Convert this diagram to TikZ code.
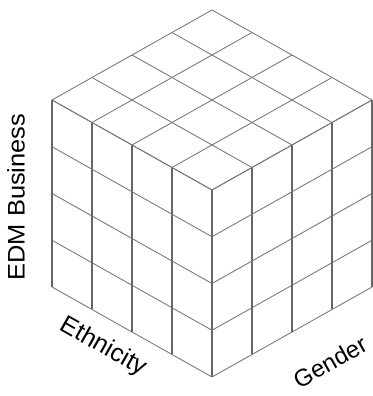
\documentclass[tikz,border=0pt]{standalone}
\usepackage{fontspec}
\setmainfont{Liberation Sans}
\usetikzlibrary{positioning}

\begin{document}
\begin{tikzpicture}[
  x=1pt, y=1pt,
  every node/.style={font=\fontsize{24}{24}\selectfont, inner sep=0pt},
  cell/.style={draw=black!52, line width=0.9pt},
  post/.style={draw=black!60, line width=1.1pt},
]
  \useasboundingbox (0,0) rectangle (372,396);

  % left face (Ethnicity side)
  \begin{scope}[shift={(212,19)}, x={(-40pt,22.5pt)}, y={(0pt,46.75pt)}]
    \foreach \i in {0,...,4} {
      \draw[post] (\i,0) -- (\i,4);
      \draw[cell] (0,\i) -- (4,\i);
    }
  \end{scope}

  % right face (Gender side)
  \begin{scope}[shift={(212,19)}, x={(40pt,22.5pt)}, y={(0pt,46.75pt)}]
    \foreach \i in {0,...,4} {
      \draw[post] (\i,0) -- (\i,4);
      \draw[cell] (0,\i) -- (4,\i);
    }
  \end{scope}

  % top face
  \begin{scope}[shift={(212,206)}, x={(-40pt,22.5pt)}, y={(40pt,22.5pt)}]
    \foreach \i in {0,...,4} {
      \draw[cell] (\i,0) -- (\i,4);
      \draw[cell] (0,\i) -- (4,\i);
    }
  \end{scope}

  \node[rotate=90, xscale=1.06]              (business)  at (16,199) {EDM Business};
  \node[rotate=-29.4, font=\fontsize{25}{25}\selectfont] (ethnicity) at (103,49) {Ethnicity};
  \node[rotate=29.4]                         (gender)    at (330,34) {Gender};
\end{tikzpicture}
\end{document}
